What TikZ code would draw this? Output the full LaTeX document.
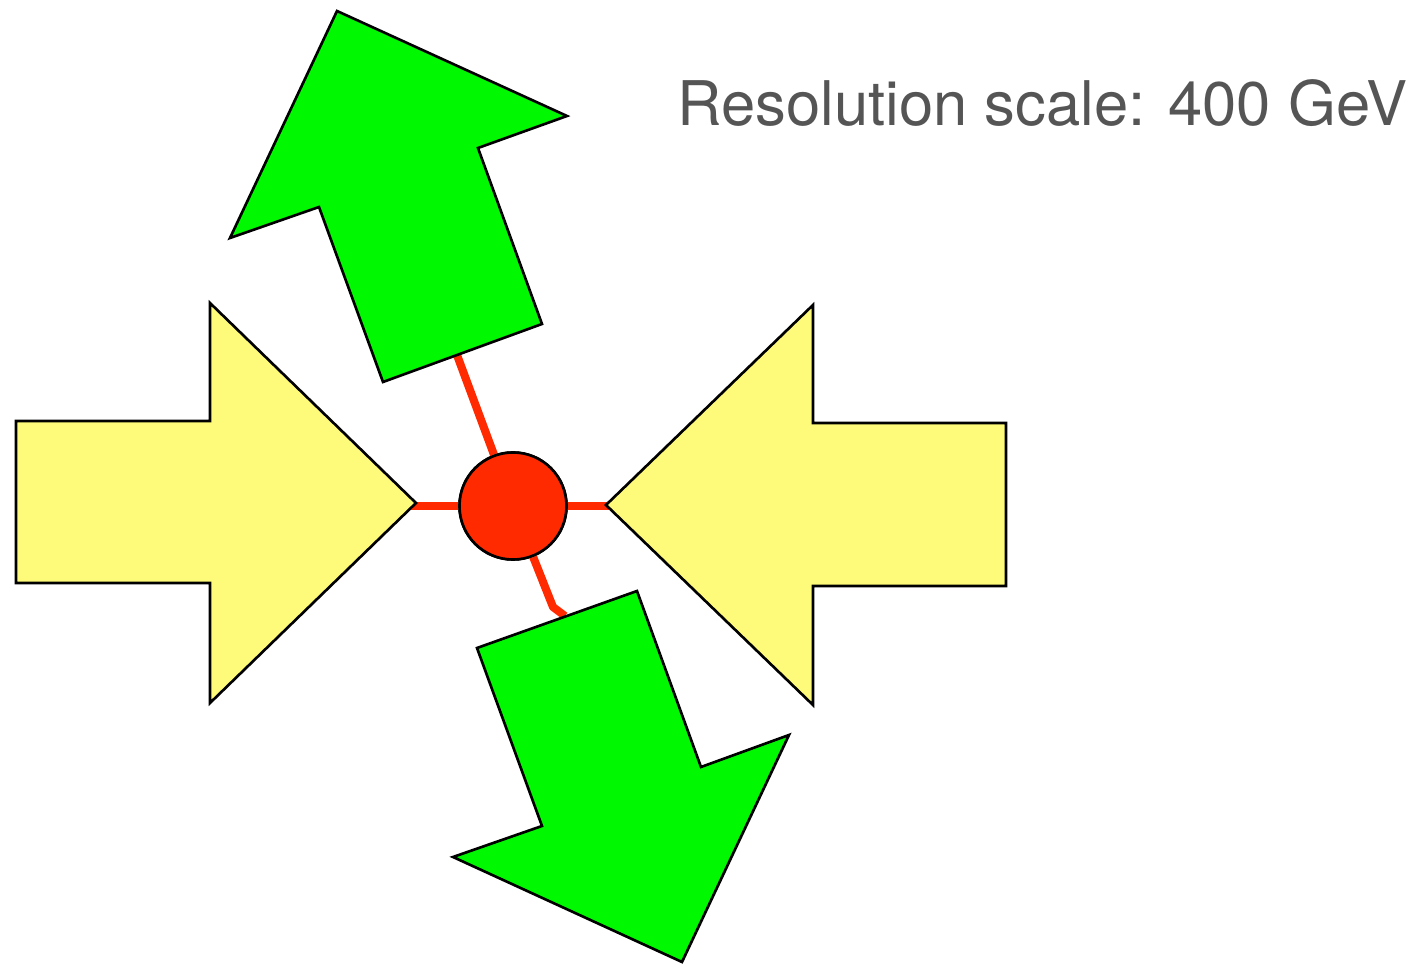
\documentclass[tikz,border=0pt]{standalone}
\usepackage{fontspec}
\setmainfont{TeX Gyre Heros}
\definecolor{arrowgreen}{RGB}{0,248,0}
\definecolor{arrowyellow}{RGB}{255,251,122}
\definecolor{vertexred}{RGB}{255,42,0}
\definecolor{labelgray}{RGB}{85,85,85}
\tikzset{
  greenarrow/.style={draw=black, line width=0.75pt, fill=arrowgreen, line join=miter},
  yellowarrow/.style={draw=black, line width=0.75pt, fill=arrowyellow, line join=miter},
  redline/.style={draw=vertexred, line width=2.3pt},
  vertex/.style={circle, draw=black, line width=0.75pt, fill=vertexred, minimum size=1.07cm, inner sep=0pt},
}
\begin{document}
\begin{tikzpicture}[x=0.01cm, y=-0.01cm]
\useasboundingbox (0,0) rectangle (1411,964);
% anchor points of the connectors
\coordinate (lt) at (410,506);
\coordinate (rt) at (612,506);
\coordinate (ub) at (457,355);
\coordinate (lk) at (553,607);
\coordinate (lb) at (565,616);
\node[vertex] (c) at (513,506) {};
% connectors
\draw[redline] (lt) -- (c.west);
\draw[redline] (c.east) -- (rt);
\draw[redline] (c) -- (ub);
\draw[redline, line join=round] (c) -- (lk) -- (lb);
\node[vertex] at (c) {};
% yellow arrows
\draw[yellowarrow] (16,421) -- (210,421) -- (210,303) -- (416,503) -- (210,703) -- (210,583) -- (16,583) -- cycle;
\draw[yellowarrow] (1006,423) -- (813,423) -- (813,305) -- (606,505) -- (813,705) -- (813,586) -- (1006,586) -- cycle;
% green arrows
\draw[greenarrow] (337,11) -- (567,116) -- (478,148) -- (542,324) -- (383,382) -- (319,207) -- (230,238) -- cycle;
\draw[greenarrow] (477,648) -- (637,591) -- (701,767) -- (789,735) -- (682,962) -- (453,857) -- (542,826) -- cycle;
% label
\node[anchor=base west, inner sep=0pt, text=labelgray, font=\fontsize{17.5pt}{21pt}\selectfont] (lbl) at (677,126) {Resolution scale: 400 GeV};
\end{tikzpicture}
\end{document}
